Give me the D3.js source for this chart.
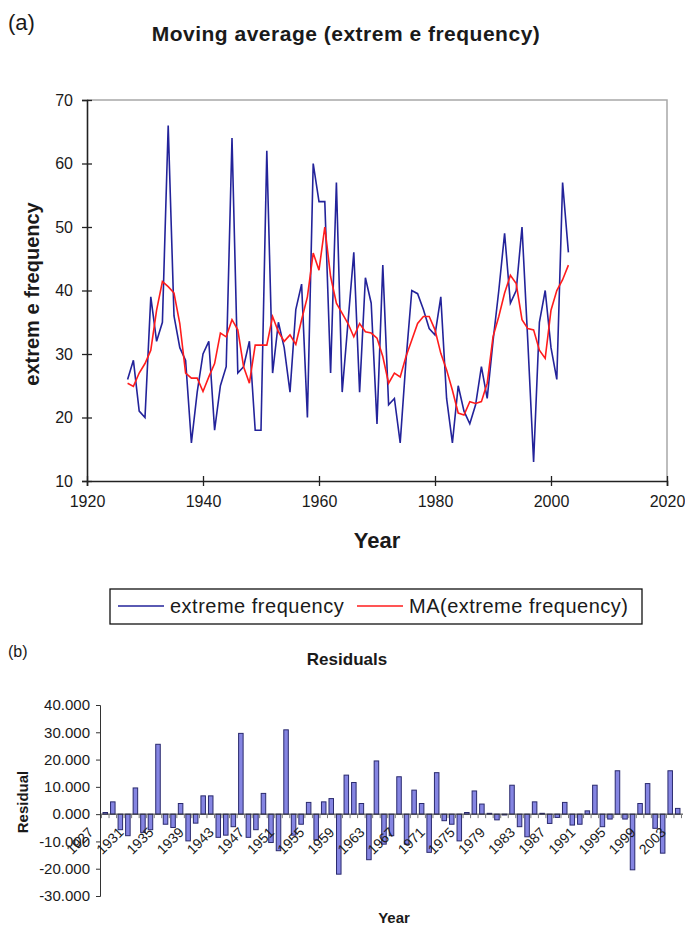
<!DOCTYPE html>
<html lang="en">
	<head>
		<meta charset="utf-8">
		<title>Moving average (extreme frequency)</title>
		<script type="text/javascript" src="https://cdn.jsdelivr.net/npm/d3@7"></script>
		<style type="text/css">
			body{
				margin: 0;
				background: white;
			}
			svg text{
				font-family: "Liberation Sans", Arial, sans-serif;
				fill: #1a1a1a;
			}
			.tick text{
				font-size: 16px;
			}
			.resAxis .tick text{
				font-size: 15px;
			}
			.bold{
				font-weight: bold;
			}
		</style>
	</head>
	<body>
		<div class="chart"></div>
		<script type="text/javascript">

			// data, 1927 - 2003
			var years = d3.range(1927, 2004);

			var freq = [26, 29, 21, 20, 39, 32, 35, 66, 36, 31,
						29, 16, 24, 30, 32, 18, 25, 28, 64, 27,
						28, 32, 18, 18, 62, 27, 35, 31, 24, 37,
						41, 20, 60, 54, 54, 27, 57, 24, 35, 46,
						24, 42, 38, 19, 44, 22, 23, 16, 29, 40,
						39.5, 37, 34, 33, 39, 23, 16, 25, 21, 19,
						22, 28, 23, 32, 40, 49, 38, 40, 50, 32,
						13, 35, 40, 31, 26, 57, 46];

			var movAvg = [25.4, 24.9, 27, 28.5, 30.6, 36.9, 41.4, 40.6, 39.6, 34.8,
						27, 26.2, 26.2, 24.1, 26.4, 28.5, 33.3, 32.7, 35.4, 33.8,
						28, 25.4, 31.4, 31.4, 31.4, 35.9, 33.5, 32, 33, 31.5,
						35.4, 39, 45.9, 43.2, 50, 42.2, 38, 36.4, 34.8, 32.7,
						34.8, 33.5, 33.3, 32.5, 29.6, 25.4, 27, 26.4, 29.6, 32.2,
						34.8, 35.9, 35.9, 33.8, 30.1, 27.5, 24.3, 20.7, 20.4, 22.5,
						22.2, 22.5, 25.4, 32.7, 35.9, 39.6, 42.4, 41.1, 35.4, 34,
						33.8, 30.6, 29.3, 36.9, 40, 41.7, 44];

			var residual = [0.6, 4.5, -5.7, -7.9, 9.6, -6.7, -5.7, 25.6, -3.7, -4.9,
						3.9, -9.8, -3.3, 6.7, 6.7, -8.5, -7.7, -4.6, 29.6, -8.5,
						-5.7, 7.6, -10.4, -13.4, 30.9, -7.7, -3.7, 4.3, -9.5, 4.5,
						5.7, -22, 14.3, 11.6, 3.9, -16.7, 19.5, -11, -7.9, 13.7,
						-11, 8.8, 3.9, -14, 15.2, -2.4, -3.7, -9.8, 0.6, 8.5,
						3.7, 0.3, -2.1, -0.3, 10.6, -4.6, -8.3, 4.5, 0.3, -3.4,
						-1.2, 4.3, -4, -3.7, 1.2, 10.6, -4.6, -1.8, 15.9, -1.8,
						-20.4, 3.9, 11.2, -5.2, -14.3, 15.9, 2.1];

			var xTicks = [1920, 1940, 1960, 1980, 2000, 2020];
			var yTicks = [10, 20, 30, 40, 50, 60, 70];
			var resTicks = [-30, -20, -10, 0, 10, 20, 30, 40];
			var resLabelYears = d3.range(1927, 2004, 4);

			var w = 685;
			var h = 926;

			var blue = "#23239a";
			var red = "#ff1c1c";

			var svg = d3.select("div.chart")
						.append("svg")
						.attr("width", w)
						.attr("height", h);

			// ---------- (a) moving average ----------
			var x = d3.scaleLinear().domain([1920, 2020]).range([87, 667]);
			var y = d3.scaleLinear().domain([10, 70]).range([481, 100]);

			svg.append("text")
				.attr("x", 8).attr("y", 30)
				.style("font-size", "22px")
				.text("(a)");

			svg.append("text")
				.attr("class", "bold")
				.attr("x", 346).attr("y", 41)
				.attr("text-anchor", "middle")
				.style("font-size", "21px")
				.style("letter-spacing", "0.5px")
				.text("Moving average (extrem e frequency)");

			// grey frame top and right
			svg.append("path")
				.attr("d", "M" + x(1920) + "," + y(70) + "H" + x(2020) + "V" + y(10))
				.attr("fill", "none")
				.attr("stroke", "#a8a8a8")
				.attr("stroke-width", 1.5);

			var xAxis = d3.axisBottom(x)
							.tickValues(xTicks)
							.tickFormat(d3.format("d"))
							.tickSize(5)
							.tickPadding(10);

			var gx = svg.append("g")
						.attr("transform", "translate(0," + y(10) + ")")
						.call(xAxis);
			gx.selectAll(".tick line").attr("y1", -5).attr("stroke", "#222").attr("stroke-width", 1.3);
			gx.select(".domain").attr("stroke", "#222").attr("stroke-width", 1.6);

			var yAxis = d3.axisLeft(y)
							.tickValues(yTicks)
							.tickSize(5)
							.tickPadding(9);

			var gy = svg.append("g")
						.attr("transform", "translate(" + x(1920) + ",0)")
						.call(yAxis);
			gy.selectAll(".tick line").attr("x1", 5).attr("stroke", "#222").attr("stroke-width", 1.3);
			gy.select(".domain").attr("stroke", "#222").attr("stroke-width", 1.6);
			gx.selectAll(".tick text").attr("fill", "#222");
			gy.selectAll(".tick text").attr("fill", "#222");

			var lineFreq = d3.line()
							.x((d, i) => x(years[i]))
							.y(d => y(d));

			svg.append("path")
				.datum(freq)
				.attr("d", lineFreq)
				.attr("fill", "none")
				.attr("stroke", blue)
				.attr("stroke-width", 1.6);

			svg.append("path")
				.datum(movAvg)
				.attr("d", lineFreq)
				.attr("fill", "none")
				.attr("stroke", red)
				.attr("stroke-width", 1.6);

			svg.append("text")
				.attr("class", "bold")
				.attr("transform", "translate(39,294) rotate(-90)")
				.attr("text-anchor", "middle")
				.style("font-size", "20px")
				.text("extrem e frequency");

			svg.append("text")
				.attr("class", "bold")
				.attr("x", 377).attr("y", 548)
				.attr("text-anchor", "middle")
				.style("font-size", "22px")
				.text("Year");

			// legend
			var legend = svg.append("g")
							.attr("transform", "translate(110,589)");

			legend.append("rect")
				.attr("width", 532).attr("height", 35)
				.attr("fill", "white")
				.attr("stroke", "#111")
				.attr("stroke-width", 1.3);

			var legendItems = [
				{name: "extreme frequency", color: blue, x0: 8},
				{name: "MA(extreme frequency)", color: red, x0: 247}
			];

			legendItems.forEach(function(d){
				legend.append("line")
					.attr("x1", d.x0).attr("x2", d.x0 + 46)
					.attr("y1", 17).attr("y2", 17)
					.attr("stroke", d.color)
					.attr("stroke-width", 1.7);
				legend.append("text")
					.attr("x", d.x0 + 52).attr("y", 24)
					.style("font-size", "20px")
					.style("letter-spacing", "0.5px")
					.text(d.name);
			});

			// ---------- (b) residuals ----------
			var xb = d3.scaleBand()
						.domain(years)
						.range([100, 683])
						.padding(0.4);
			var yb = d3.scaleLinear().domain([-30, 40]).range([896, 705]);

			svg.append("text")
				.attr("x", 8).attr("y", 657)
				.style("font-size", "16px")
				.text("(b)");

			svg.append("text")
				.attr("class", "bold")
				.attr("x", 347).attr("y", 665)
				.attr("text-anchor", "middle")
				.style("font-size", "17px")
				.text("Residuals");

			var resAxis = d3.axisLeft(yb)
							.tickValues(resTicks)
							.tickSize(4)
							.tickPadding(6)
							.tickFormat(d => d.toFixed(3));

			var ga = svg.append("g")
						.attr("class", "resAxis")
						.attr("transform", "translate(100,0)")
						.call(resAxis);
			ga.select(".domain").attr("stroke", "#333");
			ga.selectAll(".tick line").attr("stroke", "#333");
			ga.selectAll(".tick text").attr("fill", "#222");

			svg.selectAll(".resBar")
				.data(residual)
				.enter()
				.append("rect")
				.attr("class", "resBar")
				.attr("x", (d, i) => xb(years[i]))
				.attr("width", xb.bandwidth())
				.attr("y", d => yb(Math.max(0, d)))
				.attr("height", d => Math.abs(yb(d) - yb(0)))
				.attr("fill", "#8585e2")
				.attr("stroke", "#2a2a6e")
				.attr("stroke-width", 1);

			// zero line with category ticks
			svg.append("line")
				.attr("x1", 100).attr("x2", 683)
				.attr("y1", yb(0)).attr("y2", yb(0))
				.attr("stroke", "#333")
				.attr("stroke-width", 1);

			var step = xb.step();
			svg.selectAll(".catTick")
				.data(years.concat([2004]))
				.enter()
				.append("line")
				.attr("class", "catTick")
				.attr("x1", (d, i) => xb(years[0]) + xb.bandwidth() / 2 - step / 2 + i * step)
				.attr("x2", (d, i) => xb(years[0]) + xb.bandwidth() / 2 - step / 2 + i * step)
				.attr("y1", yb(0))
				.attr("y2", yb(0) + 4)
				.attr("stroke", "#777")
				.attr("stroke-width", 1);

			svg.selectAll(".resLabel")
				.data(resLabelYears)
				.enter()
				.append("text")
				.attr("class", "resLabel")
				.attr("text-anchor", "end")
				.attr("transform", d => "translate(" + (xb(d) + xb.bandwidth() / 2 - 11) + "," + (yb(0) + 19) + ") rotate(-45)")
				.style("font-size", "14px")
				.text(d => d);

			svg.append("text")
				.attr("class", "bold")
				.attr("transform", "translate(28,802) rotate(-90)")
				.attr("text-anchor", "middle")
				.style("font-size", "15px")
				.text("Residual");

			svg.append("text")
				.attr("class", "bold")
				.attr("x", 394).attr("y", 923)
				.attr("text-anchor", "middle")
				.style("font-size", "15px")
				.text("Year");

		</script>
	</body>
</html>
